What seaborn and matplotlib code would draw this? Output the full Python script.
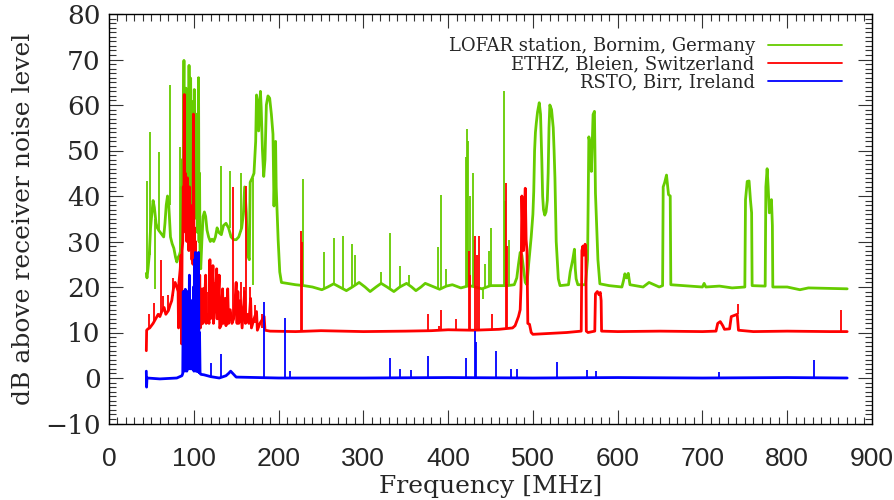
import numpy as np
import matplotlib
matplotlib.use("Agg")
import matplotlib.pyplot as plt
from matplotlib.lines import Line2D
from matplotlib.ticker import MultipleLocator
import seaborn as sns

# LOFAR station, Bornim (green): smooth level
green_f = [44.0, 44.8, 46.0, 47.5, 49.0, 50.5, 52.0, 53.5, 55.5, 57.0, 58.5, 60.5, 62.5, 64.5, 66.0, 67.5,
           69.0, 70.5, 72.5, 74.5, 76.5, 78.5, 80.0, 81.5, 83.0, 84.5,
           85.2, 85.8, 86.5, 87.1, 87.8, 88.4, 89.0, 89.6, 90.2, 90.8, 91.4, 92.0, 92.6, 93.2, 93.8, 94.4,
           95.0, 95.6, 96.3, 96.9, 97.5, 98.1, 98.8, 99.4, 100.0, 100.6, 101.2, 101.9, 102.6, 103.2, 103.8,
           104.4, 105.0, 105.6, 106.2, 106.8, 107.4, 108.2,
           109.5, 111.0, 112.5, 114.0, 115.6, 117.5, 119.5, 121.5, 123.5, 125.5, 127.5, 129.5, 132.5, 135.0,
           138.0, 141.0, 144.0, 147.0, 150.0, 153.0, 156.5, 158.5, 160.0, 162.0, 163.5, 165.5, 166.5, 169.0,
           171.0, 173.0, 174.0, 175.3, 176.5, 177.5, 178.6, 179.5, 181.0, 182.5, 184.0, 185.6, 187.5, 189.5,
           191.5, 193.4, 194.6, 195.5, 196.5, 197.2, 198.0, 199.5, 201.4, 203.4, 210.0, 220.0, 230.0, 240.0,
           251.0, 258.0, 265.0, 272.0, 280.0, 287.0, 295.0, 302.0, 308.0, 315.0, 321.0, 328.0, 336.0, 343.0,
           351.0, 357.0, 362.0, 368.0, 373.0, 381.0, 390.0, 398.0, 405.0, 415.0, 425.0, 432.0, 440.0, 450.0,
           460.0, 470.0, 478.0, 481.0, 483.0, 485.0, 487.0, 489.0, 491.0, 493.0, 495.0, 496.5, 498.0, 500.0,
           501.0, 502.0, 503.0, 504.0, 505.5, 507.5, 509.0, 510.5, 511.5, 512.5, 514.0, 515.5, 517.0, 518.0,
           519.0, 520.0, 522.0, 524.0, 525.0, 526.0, 527.5, 530.0, 532.0, 542.0, 544.0, 547.0, 549.0, 550.0,
           551.0, 553.0, 562.0, 564.5, 566.0, 567.5, 569.0, 571.0, 572.6, 573.8, 576.7, 579.0, 590.0, 605.0,
           607.0, 608.5, 610.5, 612.5, 614.5, 630.0, 637.0, 649.0, 653.0, 653.7, 655.5, 657.6, 659.0, 660.0,
           662.0, 662.7, 700.0, 702.0, 704.0, 720.0, 735.0, 750.0, 750.8, 752.8, 755.0, 756.6, 758.0, 758.6,
           774.0, 774.8, 776.3, 777.5, 778.9, 780.0, 781.4, 782.5, 783.0, 800.0, 815.0, 825.0, 850.0, 870.7]
green_db = [23.0, 22.0, 24.0, 27.0, 33.0, 36.0, 39.0, 37.5, 34.0, 33.0, 32.5, 32.0, 31.5, 31.0, 34.0, 38.0,
            40.0, 38.0, 31.0, 29.5, 28.5, 26.5, 25.5, 26.5, 27.0, 28.0,
            42.0, 30.0, 48.0, 32.0, 55.0, 69.8, 36.0, 58.0, 40.0, 63.7, 35.0, 60.0, 42.0, 55.0, 38.0, 68.7,
            45.0, 62.0, 65.9, 40.0, 58.0, 36.0, 55.0, 60.8, 38.0, 63.4, 40.0, 52.0, 58.0, 35.0, 55.0,
            32.0, 50.0, 66.0, 30.0, 45.0, 26.0, 24.0,
            30.0, 35.5, 36.5, 35.5, 32.5, 31.0, 30.0, 30.5, 30.0, 31.0, 33.0, 32.0, 31.5, 33.5,
            34.0, 33.0, 31.0, 30.4, 30.4, 31.0, 33.0, 36.0, 42.0, 36.3, 27.0, 26.0, 43.0, 44.0,
            45.0, 52.0, 62.2, 60.8, 54.3, 58.0, 63.0, 59.5, 50.0, 44.3, 48.0, 60.0, 62.0, 61.5,
            58.0, 53.6, 37.8, 45.0, 52.0, 42.0, 37.8, 30.4, 23.3, 21.0, 20.8, 20.5, 20.3, 20.0,
            19.4, 20.0, 20.7, 20.0, 19.2, 20.0, 21.0, 20.0, 19.0, 20.0, 20.8, 20.0, 19.0, 20.0,
            20.8, 20.0, 19.2, 20.0, 20.8, 20.2, 19.5, 20.2, 20.5, 19.8, 20.3, 20.0, 19.6, 20.3,
            20.3, 20.3, 20.5, 22.0, 25.0, 27.6, 27.0, 24.0, 21.0, 20.5, 25.0, 28.0, 31.0, 36.0,
            41.0, 50.0, 54.0, 56.0, 58.5, 60.5, 58.0, 48.0, 40.0, 37.0, 35.8, 36.5, 39.0, 45.0,
            55.0, 60.0, 59.0, 55.0, 50.0, 44.0, 30.0, 21.8, 20.3, 20.5, 23.3, 26.0, 28.3, 24.0,
            21.8, 20.5, 20.5, 26.0, 53.0, 51.4, 45.4, 57.9, 58.6, 40.6, 26.0, 20.7, 20.3, 20.0,
            21.5, 22.9, 22.0, 23.0, 20.5, 20.0, 21.0, 20.0, 20.3, 42.0, 43.0, 44.6, 42.0, 40.3,
            40.0, 20.5, 20.0, 20.8, 20.0, 20.2, 19.8, 20.0, 39.2, 43.2, 43.3, 39.2, 36.3, 20.3,
            20.2, 42.0, 46.0, 42.0, 36.3, 38.0, 39.2, 33.5, 20.0, 20.0, 19.4, 19.8, 19.7, 19.6]
# narrow spikes: frequency, foot, tip
green_spike_f = [44.4, 48.3, 54.6, 59.3, 72.0, 83.7, 131.7, 142.7, 155.3, 169.8, 227.0, 229.0, 253.5, 265.0,
                 276.0, 287.0, 290.0, 321.0, 331.5, 343.0, 354.0, 387.6, 391.5, 398.0, 421.0, 422.3, 423.5,
                 426.0, 429.0, 431.0, 441.0, 444.0, 448.0, 450.0, 466.0, 467.2, 472.0]
green_spike_foot = [22.5, 27.0, 35.0, 32.0, 38.0, 27.0, 31.5, 33.0, 32.0, 44.0, 20.4, 20.4, 19.6, 20.7,
                    19.8, 20.0, 20.3, 20.8, 19.6, 20.0, 20.4, 19.8, 19.6, 20.2, 20.3, 20.3, 20.3,
                    20.3, 20.3, 20.2, 19.8, 19.7, 20.0, 20.3, 20.3, 20.3, 20.3]
green_spike_top = [43.4, 54.0, 19.6, 49.7, 64.4, 50.8, 46.6, 45.6, 45.0, 20.5, 26.0, 43.8, 27.6, 30.7,
                   31.3, 29.4, 27.0, 23.3, 31.9, 24.7, 22.6, 28.7, 40.2, 24.0, 48.6, 54.7, 52.0,
                   40.0, 45.0, 30.4, 17.4, 25.0, 28.0, 33.0, 63.0, 39.0, 30.4]

# ETHZ, Bleien (red)
red_f = [44.0, 44.4, 46.0, 48.0, 50.0, 52.0, 55.0, 58.0, 60.0, 62.0, 65.0, 67.0, 70.0, 72.0, 74.0, 76.0,
         78.0, 80.0, 81.5, 82.0, 82.5, 84.0, 85.0, 85.6, 86.2, 87.0, 87.6, 88.2, 88.8, 89.4, 90.0, 90.6,
         91.2, 91.8, 92.4, 93.0, 93.6, 94.2, 94.8, 95.4, 96.0, 96.6, 97.2, 97.8, 98.4, 99.0, 99.6, 100.2,
         100.8, 101.4, 102.0, 102.6, 103.2, 103.8, 104.4, 105.0, 105.6, 106.2, 107.0, 107.8, 108.5, 110.0,
         110.6, 112.0, 114.0, 114.6, 116.0, 118.0, 119.0, 119.6, 121.0, 122.6, 123.2, 125.0, 127.0, 127.6,
         130.0, 130.6, 132.0, 134.0, 134.6, 137.0, 138.0, 140.0, 141.0, 143.0, 145.0, 147.0, 149.0, 150.0,
         151.0, 152.0, 153.0, 155.0, 157.0, 160.0, 161.0, 163.0, 165.0, 167.0, 168.0, 171.0, 174.0, 175.0,
         178.0, 183.0, 184.0, 190.0, 220.0, 250.0, 300.0, 350.0, 380.0, 400.0, 430.0, 460.0, 476.0, 479.0,
         481.0, 483.0, 485.0, 486.0, 487.0, 488.0, 489.0, 490.0, 491.0, 492.0, 493.0, 494.0, 496.0, 498.0,
         500.0, 520.0, 540.0, 557.0, 557.8, 559.0, 560.0, 561.6, 562.5, 563.0, 565.0, 573.0, 573.8, 576.0,
         578.0, 579.5, 580.5, 581.0, 600.0, 650.0, 700.0, 716.0, 718.0, 721.0, 724.0, 726.0, 732.0, 734.0,
         738.0, 741.0, 742.5, 760.0, 800.0, 850.0, 870.7]
red_db = [6.0, 10.5, 10.8, 11.0, 11.5, 12.0, 13.0, 14.0, 13.5, 14.5, 15.5, 14.0, 14.8, 16.0, 17.0, 19.6,
          21.0, 20.0, 19.0, 11.0, 21.0, 24.0, 27.0, 7.5, 28.0, 30.0, 42.0, 34.0, 62.3, 38.0, 45.0, 32.0,
          40.0, 30.0, 44.0, 35.0, 41.0, 28.0, 42.0, 32.0, 38.0, 30.0, 36.0, 26.0, 34.0, 25.0, 58.0, 30.0,
          33.0, 23.0, 30.0, 20.0, 27.0, 19.0, 23.0, 16.0, 20.0, 13.0, 22.6, 11.0, 12.0, 19.6,
          12.0, 13.0, 22.6, 12.0, 14.0, 12.0, 26.0, 13.0, 15.0, 24.7, 12.0, 16.0, 24.0, 13.0,
          22.6, 11.0, 11.5, 19.6, 12.0, 17.5, 11.5, 19.6, 12.0, 15.0, 12.0, 13.0, 18.0, 21.0,
          12.0, 19.0, 12.0, 17.0, 11.0, 19.0, 12.0, 14.0, 12.0, 17.5, 11.0, 13.0, 14.6, 10.5,
          12.0, 13.5, 10.5, 10.3, 10.2, 10.4, 10.2, 10.3, 10.4, 10.6, 10.5, 10.7, 11.0, 11.5,
          12.5, 13.5, 15.0, 20.0, 40.0, 32.0, 28.0, 36.0, 41.7, 30.4, 28.0, 12.0, 11.8, 10.0,
          9.6, 9.8, 10.0, 10.3, 28.0, 29.0, 27.0, 29.4, 28.0, 10.3, 10.0, 10.3, 18.5, 19.0,
          18.3, 18.8, 17.0, 10.3, 10.2, 10.3, 10.2, 10.3, 12.0, 12.4, 11.5, 10.7, 10.8, 13.5,
          13.8, 14.0, 10.5, 10.2, 10.3, 10.2, 10.2]
red_spike_f = [47.0, 53.0, 61.0, 63.5, 69.0, 75.0, 111.5, 117.0, 124.0, 128.5, 136.0, 146.0, 156.0, 159.0,
               162.0, 166.0, 172.0, 180.0, 226.0, 228.0, 376.0, 389.0, 391.5, 408.8, 424.6, 425.6, 432.0,
               434.0, 436.5, 452.0, 468.0, 469.2, 741.7, 864.0]
red_spike_foot = [11.0, 12.0, 14.0, 14.8, 14.5, 18.0, 12.5, 13.0, 14.0, 13.0, 14.0, 13.0, 12.0, 13.0,
                  12.0, 12.0, 12.0, 11.0, 10.2, 10.2, 10.4, 10.4, 10.5, 10.5, 10.5, 10.5, 10.5,
                  10.5, 10.5, 10.6, 10.7, 10.7, 14.0, 10.2]
red_spike_top = [14.0, 16.4, 26.0, 18.0, 18.3, 22.0, 20.0, 19.0, 21.0, 20.0, 16.0, 42.0, 21.0, 20.0,
                 42.3, 20.0, 16.0, 14.0, 32.2, 30.0, 14.0, 11.4, 15.0, 13.0, 28.0, 22.6, 31.3,
                 27.0, 31.3, 14.0, 42.8, 29.0, 16.2, 15.0]

# RSTO, Birr (blue)
blue_f = [44.0, 44.3, 44.8, 60.0, 80.0, 86.0, 87.0, 87.6, 88.2, 88.8, 89.4, 90.0, 90.6, 91.2, 91.8, 92.4,
          93.0, 93.6, 94.2, 94.8, 95.4, 96.0, 96.6, 97.2, 97.8, 98.4, 99.0, 99.6, 100.2, 100.8, 101.4,
          102.0, 102.6, 103.2, 103.8, 104.4, 105.0, 105.6, 106.2, 106.8, 107.4, 108.5, 112.0, 120.0,
          130.0, 138.0, 141.0, 143.5, 146.0, 150.0, 200.0, 300.0, 400.0, 500.0, 600.0, 700.0, 800.0, 870.7]
blue_db = [1.5, -2.0, 0.0, -0.2, 0.0, 0.5, 1.0, 19.0, 2.0, 19.0, 1.5, 19.5, 2.0, 18.0, 1.5, 19.0,
           2.5, 15.0, 2.0, 22.6, 3.0, 12.0, 2.0, 17.0, 2.0, 8.0, 2.0, 20.0, 1.5, 26.0, 2.0,
           27.6, 1.5, 24.0, 1.5, 20.0, 1.5, 27.6, 1.2, 10.0, 1.0, 0.8, 0.7, 0.3,
           0.0, 0.5, 1.0, 1.5, 1.0, 0.2, 0.0, 0.0, 0.1, 0.0, 0.1, 0.0, 0.1, 0.0]
blue_spike_f = [120.0, 131.7, 183.0, 207.3, 213.0, 331.6, 343.0, 356.0, 376.0, 420.6, 431.6, 432.6, 456.0,
                474.0, 480.8, 528.7, 564.0, 575.0, 720.0, 831.4]
blue_spike_foot = [0.3, 0.0, 0.0, 0.0, 0.0, 0.0, 0.0, 0.0, 0.0, 0.0, 0.0, 0.0, 0.0,
                   0.0, 0.0, 0.0, 0.0, 0.0, 0.0, 0.0]
blue_spike_top = [3.2, 5.3, 16.8, 13.1, 1.5, 4.3, 1.9, 1.8, 4.9, 4.4, 10.3, 8.0, 5.9,
                  2.0, 2.0, 3.5, 1.7, 1.5, 1.3, 4.0]

labels = ["LOFAR station, Bornim, Germany", "ETHZ, Bleien, Switzerland", "RSTO, Birr, Ireland"]
colors = ["#66cc00", "#ff0000", "#0000ff"]

sns.set_style("ticks")
plt.rcParams["font.family"] = ["DejaVu Serif", "DejaVu Sans"]

fig = plt.figure(figsize=(8.95, 5.0), dpi=100)
ax = fig.add_axes([0.1218, 0.153, 0.8525, 0.819])

series = [
    (green_f, green_db, green_spike_f, green_spike_foot, green_spike_top),
    (red_f, red_db, red_spike_f, red_spike_foot, red_spike_top),
    (blue_f, blue_db, blue_spike_f, blue_spike_foot, blue_spike_top),
]
for i, (f, db, sf, sfoot, stop) in enumerate(series):
    sns.lineplot(x=f, y=db, ax=ax, color=colors[i], lw=2.0, estimator=None, sort=False, zorder=2 + i)
    ax.vlines(sf, sfoot, stop, colors=colors[i], lw=1.3, zorder=2 + i)

ax.set_xlim(0, 900)
ax.set_ylim(-10, 80)
ax.xaxis.set_major_locator(MultipleLocator(100))
ax.xaxis.set_minor_locator(MultipleLocator(10))
ax.yaxis.set_major_locator(MultipleLocator(10))
ax.yaxis.set_minor_locator(MultipleLocator(1))
ax.tick_params(which="both", direction="in", top=True, right=True, color="#333333", width=0.8)
ax.tick_params(which="major", length=10)
ax.tick_params(which="minor", length=5)
ax.tick_params(axis="x", which="major", pad=17)
ax.tick_params(axis="y", which="major", pad=6, labelsize=19)
for lab in ax.get_xticklabels():
    lab.set_fontfamily(["Liberation Sans", "DejaVu Sans"])
    lab.set_fontsize(19)
for sp in ax.spines.values():
    sp.set_color("black")
    sp.set_linewidth(1.0)

ax.set_xlabel("Frequency [MHz]", fontsize=18, labelpad=3)
ax.set_ylabel("dB above receiver noise level", fontsize=18, labelpad=7)

handles = [Line2D([], [], color=c, lw=1.3) for c in colors]
ax.legend(handles, labels, loc="upper right", bbox_to_anchor=(0.961, 0.944), markerfirst=False,
          frameon=False, fontsize=13, handlelength=4.1, handletextpad=0.75, labelspacing=0.0,
          borderpad=0, borderaxespad=0)

fig.savefig("out.png", dpi=100)
